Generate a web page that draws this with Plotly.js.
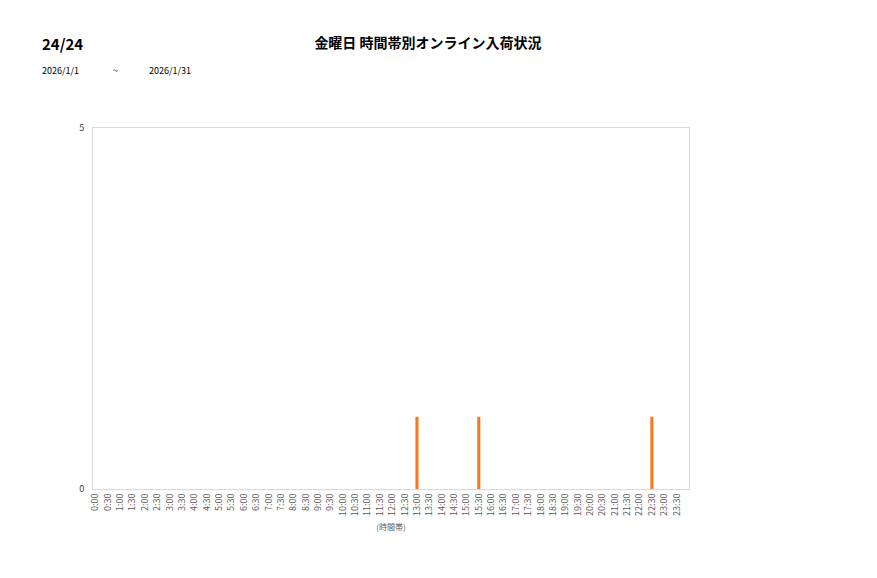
<!DOCTYPE html>
<html lang="ja">
<head>
    <meta charset="UTF-8">
    <title>金曜日 時間帯別オンライン入荷状況</title>
    <script src="https://cdn.plot.ly/plotly-3.0.1.min.js"></script>
    <style>
        body { margin: 0; background: #fff; }
        #chart { width: 877px; height: 578px; }
    </style>
</head>
<body>
<div id="chart"></div>
<script>
    // time slots 0:00 .. 23:30
    var timeSlots = ['0:00','0:30','1:00','1:30','2:00','2:30','3:00','3:30','4:00','4:30',
        '5:00','5:30','6:00','6:30','7:00','7:30','8:00','8:30','9:00','9:30',
        '10:00','10:30','11:00','11:30','12:00','12:30','13:00','13:30','14:00','14:30',
        '15:00','15:30','16:00','16:30','17:00','17:30','18:00','18:30','19:00','19:30',
        '20:00','20:30','21:00','21:30','22:00','22:30','23:00','23:30'];
    var arrivals = [0,0,0,0,0,0,0,0,0,0,
        0,0,0,0,0,0,0,0,0,0,
        0,0,0,0,0,0,1,0,0,0,
        0,1,0,0,0,0,0,0,0,0,
        0,0,0,0,0,1,0,0];
    var yTicks = [0, 5];

    var font = "'Noto Sans CJK JP', 'Noto Sans', sans-serif";

    // plot area is 596 x 361 px; helpers to place header text in pixels
    var px = function (x) { return (x - 93) / 596; };
    var py = function (y) { return 1 + (128 - y) / 361; };

    var data = [{
        type: 'bar',
        x: timeSlots,
        y: arrivals,
        width: 0.25,
        marker: { color: '#f47920' },
        hoverinfo: 'x+y'
    }];

    var layout = {
        width: 877,
        height: 578,
        paper_bgcolor: '#fff',
        plot_bgcolor: '#fff',
        margin: { l: 93, r: 188, t: 128, b: 89 },
        showlegend: false,
        font: { family: font, color: '#595959' },
        title: {
            text: '<b>金曜日 時間帯別オンライン入荷状況</b>',
            xref: 'container', yref: 'container',
            x: 0.488, xanchor: 'center',
            y: 0.925, yanchor: 'middle',
            font: { family: font, size: 14, color: '#000' }
        },
        xaxis: {
            type: 'category',
            range: [-0.2, 48],
            tickangle: -90,
            tickfont: { size: 9, color: '#595959' },
            showgrid: false,
            showline: true,
            linecolor: '#d9d9d9',
            mirror: true,
            ticks: '',
            title: { text: '(時間帯)', font: { size: 8, color: '#595959' }, standoff: 9 }
        },
        yaxis: {
            range: [0, 5],
            tickvals: yTicks,
            tickfont: { size: 9, color: '#404040' },
            showgrid: false,
            zeroline: false,
            showline: true,
            linecolor: '#d9d9d9',
            mirror: true,
            ticks: '',
            ticklabelstandoff: 6
        },
        annotations: [
            {
                text: '<b>24/24</b>', xref: 'paper', yref: 'paper',
                x: px(40), y: py(43),
                xanchor: 'left', yanchor: 'middle', showarrow: false,
                font: { family: font, size: 15, color: '#000' }
            },
            {
                text: '2026/1/1', xref: 'paper', yref: 'paper',
                x: px(40), y: py(71),
                xanchor: 'left', yanchor: 'middle', showarrow: false,
                font: { family: font, size: 9, color: '#000' }
            },
            {
                text: '~', xref: 'paper', yref: 'paper',
                x: px(115), y: py(71),
                xanchor: 'center', yanchor: 'middle', showarrow: false,
                font: { family: font, size: 9, color: '#000' }
            },
            {
                text: '2026/1/31', xref: 'paper', yref: 'paper',
                x: px(147), y: py(71),
                xanchor: 'left', yanchor: 'middle', showarrow: false,
                font: { family: font, size: 9, color: '#000' }
            }
        ]
    };

    Plotly.newPlot('chart', data, layout, { displayModeBar: false, staticPlot: true });
</script>
</body>
</html>
